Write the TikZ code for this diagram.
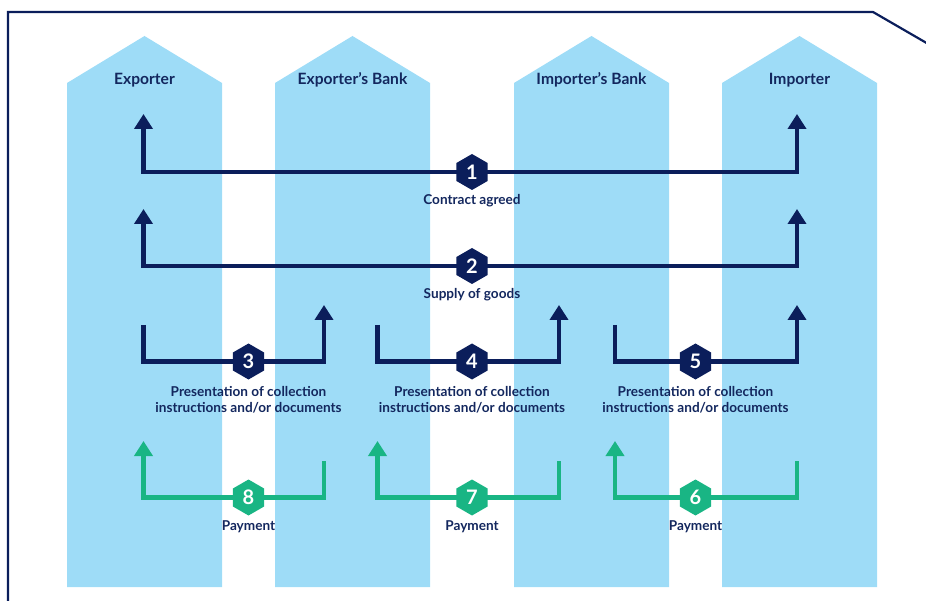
\documentclass[tikz,border=0pt]{standalone}
\usepackage{fontspec}
\setmainfont{Lato}
\usetikzlibrary{arrows.meta,shapes.geometric}
\definecolor{colblue}{HTML}{9EDCF7}
\definecolor{navy}{HTML}{0B1E5B}
\definecolor{mint}{HTML}{19B584}
\definecolor{inktext}{HTML}{13275E}
\tikzset{
  column/.style={fill=colblue, draw=none},
  head/.style={font=\bfseries\fontsize{15.6}{17}\selectfont, text=inktext, inner sep=0},
  caption/.style={font=\bfseries\fontsize{13.6}{16}\selectfont, text=inktext, inner sep=0, align=center},
  hexnum/.style={regular polygon, regular polygon sides=6, shape border rotate=30,
    minimum size=36pt, inner sep=0, text=white, font=\bfseries\fontsize{20}{20}\selectfont},
  navyhex/.style={hexnum, fill=navy},
  mintHex/.style={hexnum, fill=mint},
  tip/.style={-{Triangle[width=18pt,length=15pt]}},
  bothtips/.style={{Triangle[width=18pt,length=15pt]}-{Triangle[width=18pt,length=15pt]}},
  navyline/.style={draw=navy, line width=4.2pt},
  mintline/.style={draw=mint, line width=4.2pt},
  frameline/.style={draw=navy, line width=2.2pt},
}
\begin{document}
\begin{tikzpicture}[x=1pt,y=-1pt]
\useasboundingbox (0,0) rectangle (926,601);

% outer frame
\draw[frameline] (8,605) -- (8,12) -- (873,12) -- (930,45);

% four party columns with pointed tops
\foreach \l/\r in {67/222, 275/430, 514/669, 722/877}{
  \fill[column] (\l,587) -- (\l,83) -- ({(\l+\r)/2},36) -- (\r,83) -- (\r,587) -- cycle;
}
\node[head] (exp)  at (144.5,80) {Exporter};
\node[head] (expb) at (352.5,80) {Exporter’s Bank};
\node[head] (impb) at (591.5,80) {Importer’s Bank};
\node[head] (imp)  at (799.5,80) {Importer};

% hexagon centres
\coordinate (c1) at (472,172);
\coordinate (c2) at (472,266);
\coordinate (c3) at (248.5,361.5);
\coordinate (c4) at (472,361.5);
\coordinate (c5) at (695.5,361.5);
\coordinate (c6) at (695.5,497.5);
\coordinate (c7) at (472,497.5);
\coordinate (c8) at (248.5,497.5);

% connector ends
\coordinate (a1) at (143.5,114);   \coordinate (b1) at (797,114);
\coordinate (a2) at (143.5,209);   \coordinate (b2) at (797,209);
\coordinate (a3) at (143.5,325);   \coordinate (b3) at (324,305);
\coordinate (a4) at (377.5,325);   \coordinate (b4) at (559,305);
\coordinate (a5) at (615,325);     \coordinate (b5) at (797,305);
\coordinate (a6) at (797,461);     \coordinate (b6) at (615,441);
\coordinate (a7) at (559,461);     \coordinate (b7) at (377.5,441);
\coordinate (a8) at (324,461);     \coordinate (b8) at (143.5,441);

% flows
\draw[navyline, bothtips] (a1) |- (c1) -| (b1);
\draw[navyline, bothtips] (a2) |- (c2) -| (b2);
\draw[navyline, tip] (a3) |- (c3) -| (b3);
\draw[navyline, tip] (a4) |- (c4) -| (b4);
\draw[navyline, tip] (a5) |- (c5) -| (b5);
\draw[mintline, tip] (a6) |- (c6) -| (b6);
\draw[mintline, tip] (a7) |- (c7) -| (b7);
\draw[mintline, tip] (a8) |- (c8) -| (b8);

% step badges
\node[navyhex] (h1) at (c1) {1};
\node[navyhex] (h2) at (c2) {2};
\node[navyhex] (h3) at (c3) {3};
\node[navyhex] (h4) at (c4) {4};
\node[navyhex] (h5) at (c5) {5};
\node[mintHex] (h6) at (c6) {6};
\node[mintHex] (h7) at (c7) {7};
\node[mintHex] (h8) at (c8) {8};

% step captions
\node[caption] (t1) at (472,201) {Contract agreed};
\node[caption] (t2) at (472,295) {Supply of goods};
\node[caption] (t3) at (248.5,400) {Presentation of collection\\instructions and/or documents};
\node[caption] (t4) at (472,400) {Presentation of collection\\instructions and/or documents};
\node[caption] (t5) at (695.5,400) {Presentation of collection\\instructions and/or documents};
\node[caption] (t6) at (695.5,527) {Payment};
\node[caption] (t7) at (472,527) {Payment};
\node[caption] (t8) at (248.5,527) {Payment};
\end{tikzpicture}
\end{document}
